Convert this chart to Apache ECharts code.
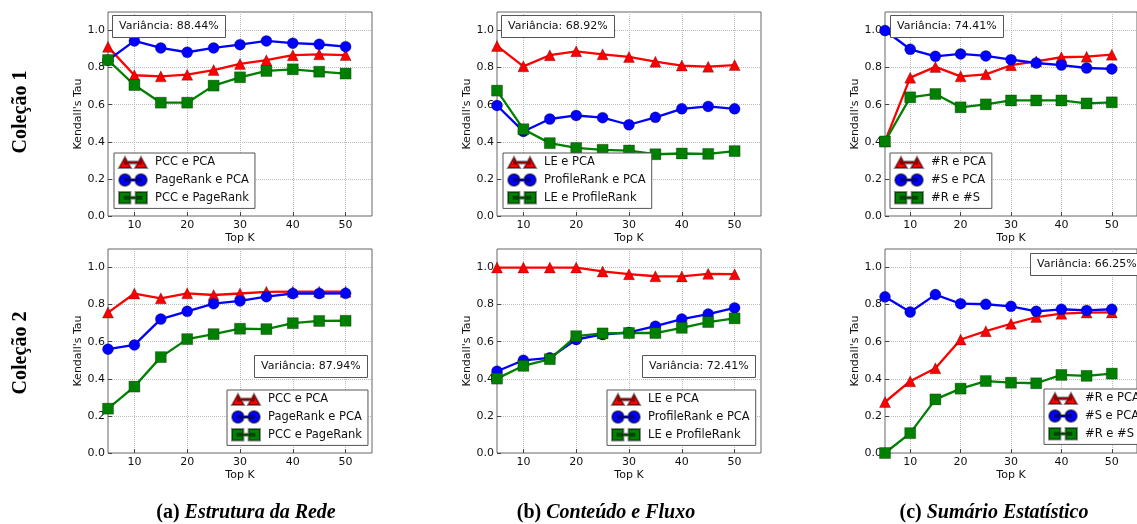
<!DOCTYPE html>
<html>
<head>
<meta charset="utf-8">
<title>Kendall's Tau - Top K</title>
<script src="https://cdn.jsdelivr.net/npm/echarts@6/dist/echarts.min.js"></script>
<style>
  html, body { margin: 0; padding: 0; background: #fff; }
  #chart { width: 1137px; height: 524px; }
</style>
</head>
<body>
<div id="chart"></div>
<script>
  // eixo x (Top K)
  const topK = [5, 10, 15, 20, 25, 30, 35, 40, 45, 50]

  // nomes dos pares, por grupo de atributos
  const redeNames = ['PCC e PCA', 'PageRank e PCA', 'PCC e PageRank']
  const fluxoNames = ['LE e PCA', 'ProfileRank e PCA', 'LE e ProfileRank']
  const sumarioNames = ['#R e PCA', '#S e PCA', '#R e #S']

  // Coleção 1
  const c1RedePccPca = [0.912, 0.759, 0.753, 0.762, 0.787, 0.82, 0.84, 0.867, 0.872, 0.868]
  const c1RedePageRankPca = [0.84, 0.944, 0.906, 0.883, 0.906, 0.924, 0.944, 0.932, 0.926, 0.913]
  const c1RedePccPageRank = [0.841, 0.706, 0.611, 0.611, 0.703, 0.748, 0.782, 0.791, 0.778, 0.768]

  const c1FluxoLePca = [0.917, 0.807, 0.867, 0.888, 0.872, 0.858, 0.832, 0.811, 0.805, 0.814]
  const c1FluxoProfilePca = [0.596, 0.456, 0.523, 0.542, 0.53, 0.492, 0.532, 0.578, 0.591, 0.578]
  const c1FluxoLeProfile = [0.676, 0.468, 0.393, 0.367, 0.357, 0.353, 0.333, 0.337, 0.335, 0.35]

  const c1SumarioRPca = [0.402, 0.746, 0.804, 0.753, 0.764, 0.813, 0.834, 0.856, 0.859, 0.87]
  const c1SumarioSPca = [1.0, 0.899, 0.861, 0.874, 0.863, 0.843, 0.825, 0.814, 0.798, 0.793]
  const c1SumarioRS = [0.402, 0.64, 0.658, 0.586, 0.602, 0.623, 0.623, 0.623, 0.607, 0.613]

  // Coleção 2
  const c2RedePccPca = [0.757, 0.86, 0.834, 0.861, 0.852, 0.86, 0.869, 0.87, 0.87, 0.87]
  const c2RedePageRankPca = [0.56, 0.583, 0.722, 0.764, 0.805, 0.82, 0.843, 0.86, 0.86, 0.861]
  const c2RedePccPageRank = [0.239, 0.358, 0.517, 0.614, 0.641, 0.67, 0.668, 0.7, 0.712, 0.713]

  const c2FluxoLePca = [1.0, 1.0, 1.0, 1.0, 0.979, 0.964, 0.953, 0.952, 0.966, 0.964]
  const c2FluxoProfilePca = [0.441, 0.5, 0.513, 0.612, 0.639, 0.65, 0.684, 0.722, 0.749, 0.782]
  const c2FluxoLeProfile = [0.401, 0.47, 0.506, 0.63, 0.645, 0.647, 0.647, 0.675, 0.706, 0.726]

  const c2SumarioRPca = [0.275, 0.387, 0.457, 0.612, 0.657, 0.697, 0.733, 0.751, 0.757, 0.758]
  const c2SumarioSPca = [0.842, 0.76, 0.854, 0.805, 0.802, 0.791, 0.764, 0.775, 0.769, 0.775]
  const c2SumarioRS = [0.0, 0.107, 0.289, 0.347, 0.388, 0.379, 0.376, 0.421, 0.416, 0.428]

  // variância explicada (PCA)
  const varianciaC1 = ['88.44%', '68.92%', '74.41%']
  const varianciaC2 = ['87.94%', '72.41%', '66.25%']

  const FONT = 'DejaVu Sans'
  const colors = ['#ff0000', '#0000ff', '#008000']
  const symbols = ['triangle', 'circle', 'rect']
  const legendIcons = [
    'path://M0,11.5L6,0.5L12,11.5Z M16,11.5L22,0.5L28,11.5Z M6,5L22,5L22,7L6,7Z',
    'path://M0,6A6,6,0,1,1,12,6A6,6,0,1,1,0,6Z M16,6A6,6,0,1,1,28,6A6,6,0,1,1,16,6Z M6,5L22,5L22,7L6,7Z',
    'path://M0.5,0.5L11.5,0.5L11.5,11.5L0.5,11.5Z M16.5,0.5L27.5,0.5L27.5,11.5L16.5,11.5Z M6,5L22,5L22,7L6,7Z'
  ]

  // posição dos painéis (pixels)
  const colLeft = [108, 497, 885]
  const rowTop = [12, 249]
  const panelW = 264
  const panelH = 204

  const panels = [
    { row: 0, col: 0, names: redeNames, data: [c1RedePccPca, c1RedePageRankPca, c1RedePccPageRank],
      variancia: varianciaC1[0], varPos: [112, 15], legPos: [114, 153] },
    { row: 0, col: 1, names: fluxoNames, data: [c1FluxoLePca, c1FluxoProfilePca, c1FluxoLeProfile],
      variancia: varianciaC1[1], varPos: [501, 15], legPos: [503, 153] },
    { row: 0, col: 2, names: sumarioNames, data: [c1SumarioRPca, c1SumarioSPca, c1SumarioRS],
      variancia: varianciaC1[2], varPos: [890, 15], legPos: [890, 153] },
    { row: 1, col: 0, names: redeNames, data: [c2RedePccPca, c2RedePageRankPca, c2RedePccPageRank],
      variancia: varianciaC2[0], varPos: [254, 355], legPos: [227, 390] },
    { row: 1, col: 1, names: fluxoNames, data: [c2FluxoLePca, c2FluxoProfilePca, c2FluxoLeProfile],
      variancia: varianciaC2[1], varPos: [642, 355], legPos: [607, 390] },
    { row: 1, col: 2, names: sumarioNames, data: [c2SumarioRPca, c2SumarioSPca, c2SumarioRS],
      variancia: varianciaC2[2], varPos: [1030, 253], legPos: [1044, 389] }
  ]

  const grid = [], xAxis = [], yAxis = [], series = [], legend = [], title = []

  panels.forEach((p, i) => {
    grid.push({
      left: colLeft[p.col],
      top: rowTop[p.row],
      width: panelW,
      height: panelH,
      show: true,
      backgroundColor: '#fff',
      borderColor: '#666',
      borderWidth: 1
    })
    xAxis.push({
      type: 'value',
      gridIndex: i,
      min: 5,
      max: 55,
      splitNumber: 5,
      name: 'Top K',
      nameLocation: 'middle',
      nameGap: 17,
      nameTextStyle: { fontFamily: FONT, fontSize: 11, color: '#111' },
      axisLine: { show: false },
      axisTick: { show: true, inside: true, length: 4, lineStyle: { color: '#444' } },
      axisLabel: {
        showMinLabel: false,
        showMaxLabel: false,
        margin: 4,
        fontFamily: FONT,
        fontSize: 11,
        color: '#111'
      },
      splitLine: {
        show: true,
        showMinLine: false,
        showMaxLine: false,
        lineStyle: { color: '#bbb', type: 'dotted' }
      }
    })
    yAxis.push({
      type: 'value',
      gridIndex: i,
      min: 0,
      max: 1.1,
      interval: 0.2,
      name: "Kendall's Tau",
      nameLocation: 'middle',
      nameGap: 24,
      nameTextStyle: { fontFamily: FONT, fontSize: 11, color: '#111' },
      axisLine: { show: false },
      axisTick: { show: true, inside: true, length: 4, lineStyle: { color: '#444' } },
      axisLabel: {
        showMaxLabel: false,
        margin: 3,
        fontFamily: FONT,
        fontSize: 11,
        color: '#111',
        formatter: v => (v > 1.05 ? '' : v.toFixed(1))
      },
      splitLine: {
        show: true,
        showMinLine: false,
        showMaxLine: false,
        lineStyle: { color: '#bbb', type: 'dotted' }
      }
    })
    p.data.forEach((vals, k) => {
      series.push({
        name: p.names[k],
        type: 'line',
        xAxisIndex: i,
        yAxisIndex: i,
        data: topK.map((x, j) => [x, vals[j]]),
        symbol: symbols[k],
        symbolSize: 11,
        color: colors[k],
        lineStyle: { width: 2.3, color: colors[k] },
        itemStyle: { color: colors[k], borderColor: 'rgba(0,0,0,0.45)', borderWidth: 0.6 },
        animation: false
      })
    })
    legend.push({
      orient: 'vertical',
      left: p.legPos[0],
      top: p.legPos[1],
      data: p.names.map((n, k) => ({ name: n, icon: legendIcons[k] })),
      itemWidth: 28,
      itemHeight: 12,
      itemGap: 4,
      padding: [3, 6, 4, 4],
      backgroundColor: '#fff',
      borderColor: '#555',
      borderWidth: 1,
      borderRadius: 0,
      selectedMode: false,
      textStyle: { fontFamily: FONT, fontSize: 11.5, color: '#111', padding: [0, 0, 0, 3] }
    })
    title.push({
      text: 'Variância: ' + p.variancia,
      left: p.varPos[0],
      top: p.varPos[1],
      padding: [6, 7],
      backgroundColor: '#fff',
      borderColor: '#555',
      borderWidth: 1,
      textStyle: { fontFamily: FONT, fontSize: 11, fontWeight: 'normal', color: '#111' }
    })
  })

  const serif = '"Liberation Serif"'
  const captionRich = {
    n: { font: 'bold 20px ' + serif, fill: '#000' },
    i: { font: 'italic bold 20px ' + serif, fill: '#000' }
  }
  const captions = [
    ['(a)', 'Estrutura da Rede'],
    ['(b)', 'Conteúdo e Fluxo'],
    ['(c)', 'Sumário Estatístico']
  ]
  const captionX = [246, 606, 994]
  const rowLabels = ['Coleção 1', 'Coleção 2']
  const rowLabelY = [112, 353]

  const graphic = []
  rowLabels.forEach((t, r) => {
    graphic.push({
      type: 'text',
      x: 21,
      y: rowLabelY[r],
      rotation: Math.PI / 2,
      style: {
        text: t,
        font: 'bold 20px ' + serif,
        fill: '#000',
        align: 'center',
        verticalAlign: 'middle'
      }
    })
  })
  captions.forEach((c, k) => {
    graphic.push({
      type: 'text',
      x: captionX[k],
      y: 513,
      style: {
        text: '{n|' + c[0] + ' }{i|' + c[1] + '}',
        rich: captionRich,
        font: 'bold 20px ' + serif,
        fill: '#000',
        align: 'center',
        verticalAlign: 'middle'
      }
    })
  })

  const chart = echarts.init(document.getElementById('chart'))
  chart.setOption({
    backgroundColor: '#fff',
    animation: false,
    grid: grid,
    xAxis: xAxis,
    yAxis: yAxis,
    series: series,
    legend: legend,
    title: title,
    graphic: graphic
  })
</script>
</body>
</html>
